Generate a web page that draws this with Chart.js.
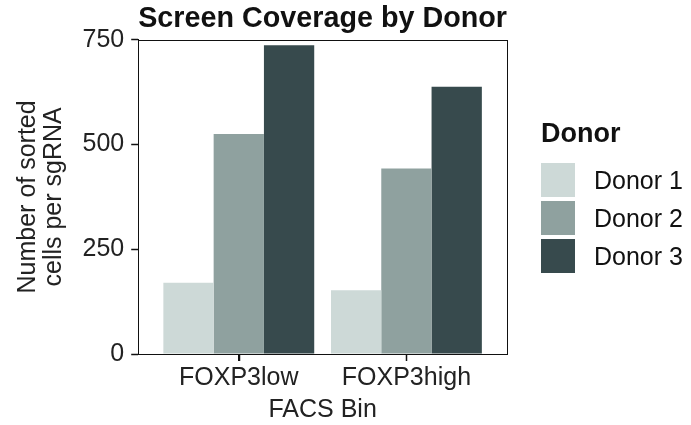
<!DOCTYPE html>
<html>
<head>
<meta charset="utf-8">
<script src="https://cdn.jsdelivr.net/npm/chart.js@4/dist/chart.umd.min.js"></script>
<style>
  html, body { margin: 0; padding: 0; background: #fff; }
  #wrap { position: relative; width: 691px; height: 425px; font-family: "Liberation Sans", Arial, Helvetica, sans-serif; }
  #chart { position: absolute; left: 0; top: 0; }
  #legend { position: absolute; left: 541px; top: 117px; color: #111; }
  #legend .ttl { font-weight: bold; font-size: 27px; line-height: 32px; margin-bottom: 12px; }
  #legend .item { display: flex; align-items: center; height: 38px; }
  #legend .sw { width: 34px; height: 34px; margin-right: 19px; }
  #legend .lbl { font-size: 25px; }
</style>
</head>
<body>
<div id="wrap">
  <canvas id="chart" width="691" height="425"></canvas>
  <div id="legend"></div>
</div>
<script>
// données
const categories = ['FOXP3low', 'FOXP3high'];
const donors = ['Donor 1', 'Donor 2', 'Donor 3'];
const donor1 = [170, 152];
const donor2 = [525, 443];
const donor3 = [737, 638];
const yTicks = [0, 250, 500, 750];
const colors = ['#cdd9d7', '#8fa19f', '#374a4d'];

const series = [donor1, donor2, donor3];

const datasets = series.map((vals, i) => ({
    label: donors[i],
    data: vals.map((v, j) => ({ x: j + 1, y: v })),
    backgroundColor: colors[i],
    borderWidth: 0,
    categoryPercentage: 0.9,
    barPercentage: 1.0
}));

// légende HTML
const legend = document.getElementById('legend');
let html = '<div class="ttl">Donor</div>';
donors.forEach((d, i) => {
    html += '<div class="item"><div class="sw" style="background:' + colors[i] + '"></div><span class="lbl">' + d + '</span></div>';
});
legend.innerHTML = html;

// cadre du panneau + petites graduations sous l'axe x
const panelBox = {
    id: 'panelBox',
    afterDraw(chart) {
        const a = chart.chartArea;
        const ctx = chart.ctx;
        const xs = chart.scales.x;
        ctx.save();
        ctx.strokeStyle = '#111';
        ctx.lineWidth = 1;
        ctx.strokeRect(Math.round(a.left) + 0.5, Math.round(a.top) + 0.5,
            Math.round(a.right - a.left), Math.round(a.bottom - a.top));
        ctx.lineWidth = 1.5;
        ctx.beginPath();
        xs.ticks.forEach(t => {
            const px = Math.round(xs.getPixelForValue(t.value)) + 0.5;
            ctx.moveTo(px, Math.round(a.bottom));
            ctx.lineTo(px, Math.round(a.bottom) + 7);
        });
        ctx.stroke();
        ctx.restore();
    }
};

const font = 'Liberation Sans, Arial, Helvetica, sans-serif';

new Chart(document.getElementById('chart'), {
    type: 'bar',
    data: { datasets: datasets },
    options: {
        responsive: false,
        animation: false,
        layout: { padding: { left: 15, right: 184, top: 0, bottom: 0 } },
        plugins: {
            legend: { display: false },
            tooltip: { enabled: false },
            title: {
                display: true,
                text: 'Screen Coverage by Donor',
                fullSize: false,
                color: '#111',
                font: { family: font, size: 29, weight: 'bold', lineHeight: 1.2 },
                padding: { top: 2, bottom: 3 }
            }
        },
        scales: {
            x: {
                type: 'linear',
                min: 0.4,
                max: 2.6,
                offset: false,
                afterBuildTicks: axis => {
                    axis.ticks = categories.map((c, i) => ({ value: i + 1 }));
                },
                ticks: {
                    callback: v => categories[v - 1],
                    color: '#222',
                    font: { family: font, size: 25, lineHeight: 1.2 },
                    padding: 2,
                    maxRotation: 0,
                    autoSkip: false
                },
                grid: { offset: false, drawOnChartArea: false, drawTicks: true, tickLength: 7, tickColor: '#111' },
                border: { display: true, color: '#111' },
                title: {
                    display: true,
                    text: 'FACS Bin',
                    color: '#222',
                    font: { family: font, size: 25, lineHeight: 1.2 },
                    padding: { top: 0, bottom: 0 }
                }
            },
            y: {
                min: 0,
                max: 750,
                afterBuildTicks: axis => {
                    axis.ticks = yTicks.map(v => ({ value: v }));
                },
                ticks: {
                    color: '#222',
                    font: { family: font, size: 25 },
                    padding: 7
                },
                grid: { drawOnChartArea: false, drawTicks: true, tickLength: 7, tickColor: '#111', tickWidth: 1.5 },
                border: { display: true, color: '#111' },
                title: {
                    display: true,
                    text: ['Number of sorted', 'cells per sgRNA'],
                    color: '#222',
                    font: { family: font, size: 25, lineHeight: 1.05 },
                    padding: { top: 0, bottom: 8 }
                }
            }
        }
    },
    plugins: [panelBox]
});
</script>
</body>
</html>
